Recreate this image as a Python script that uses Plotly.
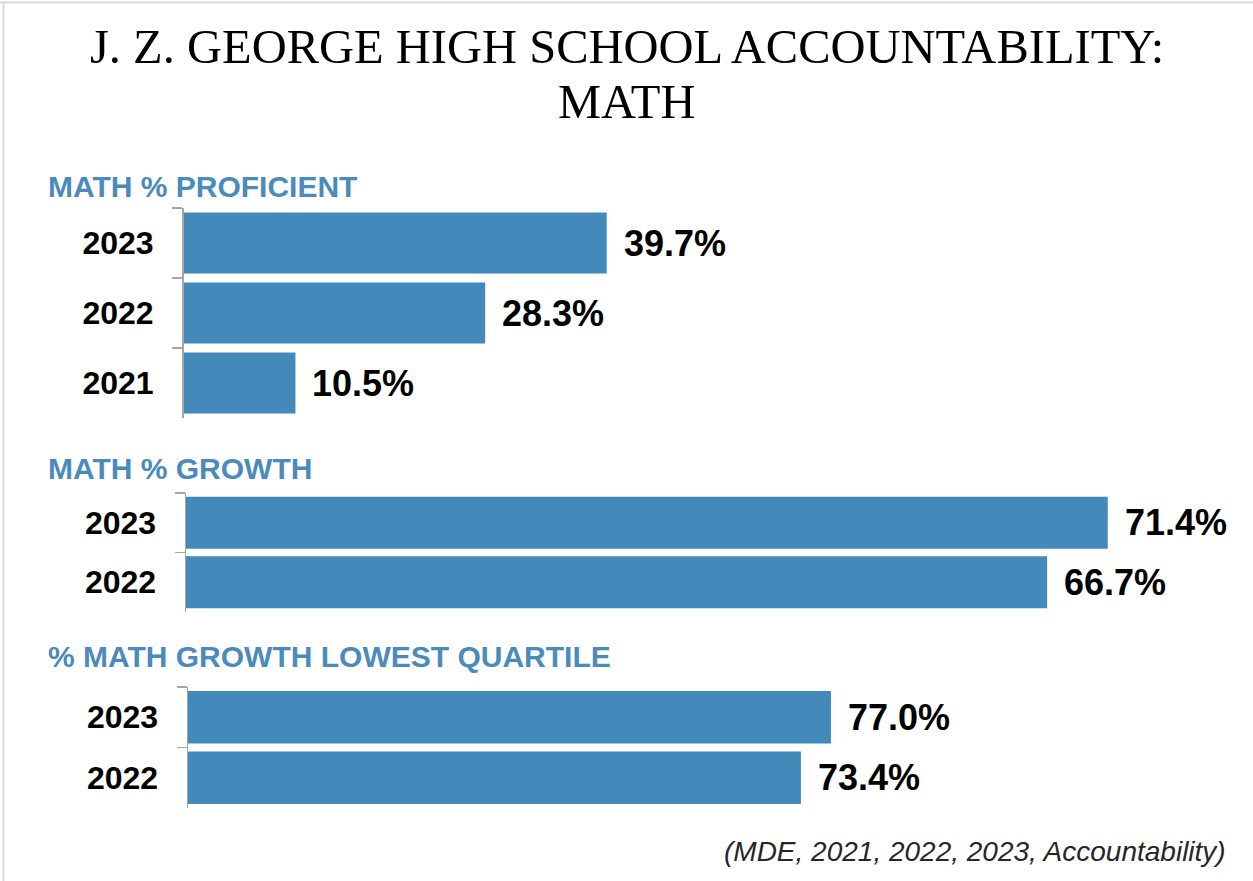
import plotly.graph_objects as go

W, H = 1253, 881

title_line1 = "J. Z. GEORGE HIGH SCHOOL ACCOUNTABILITY:"
title_line2 = "MATH"
source_note = "(MDE, 2021, 2022, 2023, Accountability)"

sec1_title = "MATH % PROFICIENT"
sec1_years = ["2023", "2022", "2021"]
sec1_values = [39.7, 28.3, 10.5]

sec2_title = "MATH % GROWTH"
sec2_years = ["2023", "2022"]
sec2_values = [71.4, 66.7]

sec3_title = "% MATH GROWTH LOWEST QUARTILE"
sec3_years = ["2023", "2022"]
sec3_values = [77.0, 73.4]

BAR = "#4389BA"
HEAD = "#4A8BBC"
AXIS = "#A6A6A6"


def px_x(p):
    return p / W


def px_y(p):
    return 1 - p / H


# panel geometry (pixels): axis x-position, px per unit, y-top, y-bottom
panels = [
    (sec1_years, sec1_values, 183.5, 10.66, 208, 418, sec1_title, 186),
    (sec2_years, sec2_values, 186.0, 12.91, 493, 612, sec2_title, 468),
    (sec3_years, sec3_values, 188.0, 8.35, 687, 808, sec3_title, 656),
]

fig = go.Figure()
annotations = []
layout_axes = {}

for i, (years, vals, x0, scale, yt, yb, head, head_y) in enumerate(panels, start=1):
    xa = "x" if i == 1 else f"x{i}"
    ya = "y" if i == 1 else f"y{i}"
    fig.add_trace(go.Bar(
        x=vals, y=years, orientation="h", xaxis=xa, yaxis=ya,
        marker=dict(color=BAR, line=dict(width=0)), width=0.87,
        hoverinfo="skip", showlegend=False,
    ))
    span = 1000
    layout_axes["xaxis" if i == 1 else f"xaxis{i}"] = dict(
        domain=[px_x(x0), px_x(x0 + span)], range=[0, span / scale],
        visible=False, anchor=ya, fixedrange=True, automargin=False,
    )
    layout_axes["yaxis" if i == 1 else f"yaxis{i}"] = dict(
        domain=[px_y(yb), px_y(yt)], type="category",
        categoryorder="array", categoryarray=years,
        range=[len(years) - 0.5, -0.5], autorange=False,
        anchor=xa, showline=True, linecolor=AXIS, linewidth=1.5,
        ticks="outside", tickson="boundaries", ticklen=10, tickcolor=AXIS,
        tickwidth=1.5, showgrid=False, zeroline=False, automargin=False,
        tickfont=dict(family="Liberation Sans", size=32, color="#000000",
                      weight="bold"),
        ticklabelstandoff=22, fixedrange=True,
    )
    for k, (v, yr) in enumerate(zip(vals, years)):
        annotations.append(dict(
            x=v, y=k, xref=xa, yref=ya, text=f"<b>{v:.1f}%</b>",
            showarrow=False, xanchor="left", yanchor="middle", xshift=15,
            font=dict(family="Liberation Sans", size=36, color="#000000"),
        ))
    annotations.append(dict(
        x=px_x(46), y=px_y(head_y), xref="paper", yref="paper",
        text=f"<b>{head}</b>", showarrow=False, xanchor="left",
        yanchor="middle",
        font=dict(family="Liberation Sans", size=30, color=HEAD),
    ))

annotations += [
    dict(x=0.5, y=px_y(47), xref="paper", yref="paper", text=title_line1,
         showarrow=False, xanchor="center", yanchor="middle",
         font=dict(family="Liberation Serif", size=48.5, color="#000000")),
    dict(x=0.5, y=px_y(102), xref="paper", yref="paper", text=title_line2,
         showarrow=False, xanchor="center", yanchor="middle",
         font=dict(family="Liberation Serif", size=48.5, color="#000000")),
    dict(x=px_x(1228), y=px_y(851), xref="paper", yref="paper",
         text=f"<i>{source_note}</i>", showarrow=False, xanchor="right",
         yanchor="middle",
         font=dict(family="Liberation Sans", size=28, color="#262626")),
]

shapes = [
    dict(type="line", xref="paper", yref="paper", x0=0, x1=1,
         y0=px_y(2.5), y1=px_y(2.5), line=dict(color="#D9D9D9", width=2)),
    dict(type="line", xref="paper", yref="paper", x0=px_x(3.5), x1=px_x(3.5),
         y0=0, y1=px_y(2.5), line=dict(color="#D9D9D9", width=2)),
]

fig.update_layout(
    template="none",
    width=W, height=H, margin=dict(l=0, r=0, t=0, b=0, pad=0, autoexpand=False),
    paper_bgcolor="#FFFFFF", plot_bgcolor="#FFFFFF",
    annotations=annotations, shapes=shapes, showlegend=False,
    **layout_axes,
)

fig.write_html(
    "out.html",
    config={"displayModeBar": False, "staticPlot": True},
    post_script="document.body.style.margin='0';document.body.style.overflow='hidden';",
)
